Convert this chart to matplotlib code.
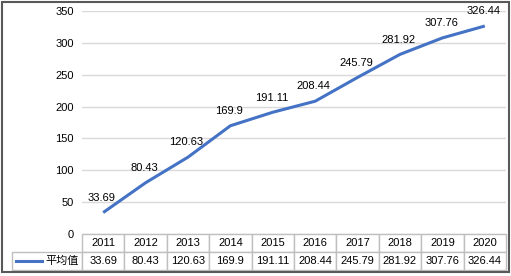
import matplotlib
matplotlib.use("Agg")
import matplotlib.pyplot as plt
from matplotlib.patches import Rectangle
from matplotlib.lines import Line2D

plt.rcParams['font.family'] = ['Liberation Sans', 'Noto Sans CJK SC', 'DejaVu Sans']

# data
years = ['2011', '2012', '2013', '2014', '2015', '2016', '2017', '2018', '2019', '2020']
values = [33.69, 80.43, 120.63, 169.9, 191.11, 208.44, 245.79, 281.92, 307.76, 326.44]
series_name = '平均值'
y_ticks = [0, 50, 100, 150, 200, 250, 300, 350]

W, H = 511, 276
fig = plt.figure(figsize=(W / 100, H / 100), dpi=100)

# plot area in pixels
x0, x1 = 82, 506
y_top, y_bot = 11, 234
ax = fig.add_axes([x0 / W, 1 - y_bot / H, (x1 - x0) / W, (y_bot - y_top) / H])

line_color = '#4472C4'
xs = list(range(len(years)))
ax.plot(xs, values, color=line_color, linewidth=2.2, solid_capstyle='butt')
for x, v in zip(xs, values):
    ax.annotate(f'{v:g}', (x, v), xytext=(-1, 7), textcoords='offset points',
                ha='center', va='bottom', fontsize=8, color='#000000')

ax.set_xlim(-0.5, len(years) - 0.5)
ax.set_ylim(0, 350)
ax.set_yticks(y_ticks)
ax.set_xticks([])
ax.tick_params(axis='y', length=0, labelsize=8, pad=6, labelcolor='#000000')
for s in ax.spines.values():
    s.set_visible(False)
ax.grid(axis='y', color='#d9d9d9', linewidth=1)
ax.set_axisbelow(True)

# data table below the plot (first column holds the legend entry)
ax_h_px = y_bot - y_top
tbl_h = 36 / ax_h_px
lab_w = 70 / (x1 - x0)
col_w = 1 / len(years)
tbl = ax.table(cellText=[[''] + years, [series_name] + [f'{v:g}' for v in values]],
               colWidths=[lab_w] + [col_w] * len(years),
               cellLoc='center',
               bbox=[-lab_w, -tbl_h, 1 + lab_w, tbl_h])
tbl.auto_set_font_size(False)
tbl.set_fontsize(8)
for (r, c), cell in tbl.get_celld().items():
    cell.set_edgecolor('#bfbfbf')
    cell.set_linewidth(1)
    if c == 0:
        cell.get_text().set_horizontalalignment('right')
        cell._loc = 'right'
        cell.PAD = 0.04
        if r == 0:
            cell.visible_edges = ''

# legend key inside the first column
ax.add_line(Line2D([-lab_w + 4 / (x1 - x0), -lab_w + 30 / (x1 - x0)],
                   [-tbl_h * 0.75, -tbl_h * 0.75],
                   transform=ax.transAxes, color=line_color, linewidth=2.2,
                   clip_on=False))

# outer frame
fig.patches.append(Rectangle((2 / W, 4 / H), (W - 4) / W, (H - 6) / H,
                             transform=fig.transFigure, fill=False,
                             edgecolor='#595959', linewidth=1.5))

fig.savefig('out.png', dpi=100)
